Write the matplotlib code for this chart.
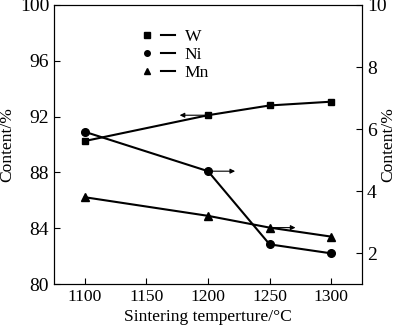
import matplotlib.pyplot as plt
from matplotlib.lines import Line2D
from matplotlib.legend_handler import HandlerTuple

plt.rcParams['font.family'] = ['Liberation Serif', 'DejaVu Serif']
plt.rcParams['font.size'] = 12.6

temps = [1100, 1200, 1250, 1300]
w_content = [90.25, 92.1, 92.8, 93.07]
ni_content = [5.91, 4.64, 2.28, 1.99]
mn_content = [3.80, 3.20, 2.82, 2.53]

fig = plt.figure(figsize=(4.0, 3.33), dpi=100)
ax = fig.add_axes([0.135, 0.147, 0.77, 0.838])
ax2 = ax.twinx()

lw = 1.5
ax.plot(temps, w_content, color='k', lw=lw, marker='s', ms=5)
ax2.plot(temps, ni_content, color='k', lw=lw, marker='o', ms=5.5)
ax2.plot(temps, mn_content, color='k', lw=lw, marker='^', ms=5.5)

# arrows showing which axis each curve belongs to
arrow = dict(arrowstyle='-|>', color='k', lw=0.8, mutation_scale=7, shrinkA=0, shrinkB=0)
ax.annotate('', xy=(1177, w_content[1]), xytext=(1200, w_content[1]), arrowprops=arrow)
ax2.annotate('', xy=(1222, ni_content[1]), xytext=(1200, ni_content[1]), arrowprops=arrow)
ax2.annotate('', xy=(1271, mn_content[2]), xytext=(1250, mn_content[2]), arrowprops=arrow)

ax.set_xlim(1075, 1325)
ax.set_ylim(80, 100)
ax.set_yticks([80, 84, 88, 92, 96, 100])
ax.set_xticks([1100, 1150, 1200, 1250, 1300])
ax2.set_ylim(1, 10)
ax2.set_yticks([2, 4, 6, 8, 10])

ax.tick_params(direction='in', length=4, width=0.8, top=False)
ax.tick_params(axis='y', labelsize=14)
ax2.tick_params(direction='in', length=4, width=0.8, labelsize=14)
ax.set_xlabel('Sintering temperture/°C', labelpad=3)
ax.set_ylabel('Content/%')
ax2.set_ylabel('Content/%')
ax.yaxis.set_label_coords(-0.127, 0.5)
ax2.yaxis.set_label_coords(1.06, 0.5)

# legend: marker, then a short separate dash, then the label
handles = []
for m in ['s', 'o', '^']:
    mk = Line2D([], [], ls='none', marker=m, color='k', ms=4)
    ln = Line2D([], [], color='k', lw=1.5)
    handles.append((mk, ln))
ax.legend(handles, ['W', 'Ni', 'Mn'], handler_map={tuple: HandlerTuple(ndivide=None, pad=0.4)},
          loc='upper left', bbox_to_anchor=(0.279, 0.915), borderpad=0, borderaxespad=0,
          frameon=False, handlelength=2.0, handletextpad=0.57, labelspacing=0.1)

fig.savefig('out.png', dpi=100)
